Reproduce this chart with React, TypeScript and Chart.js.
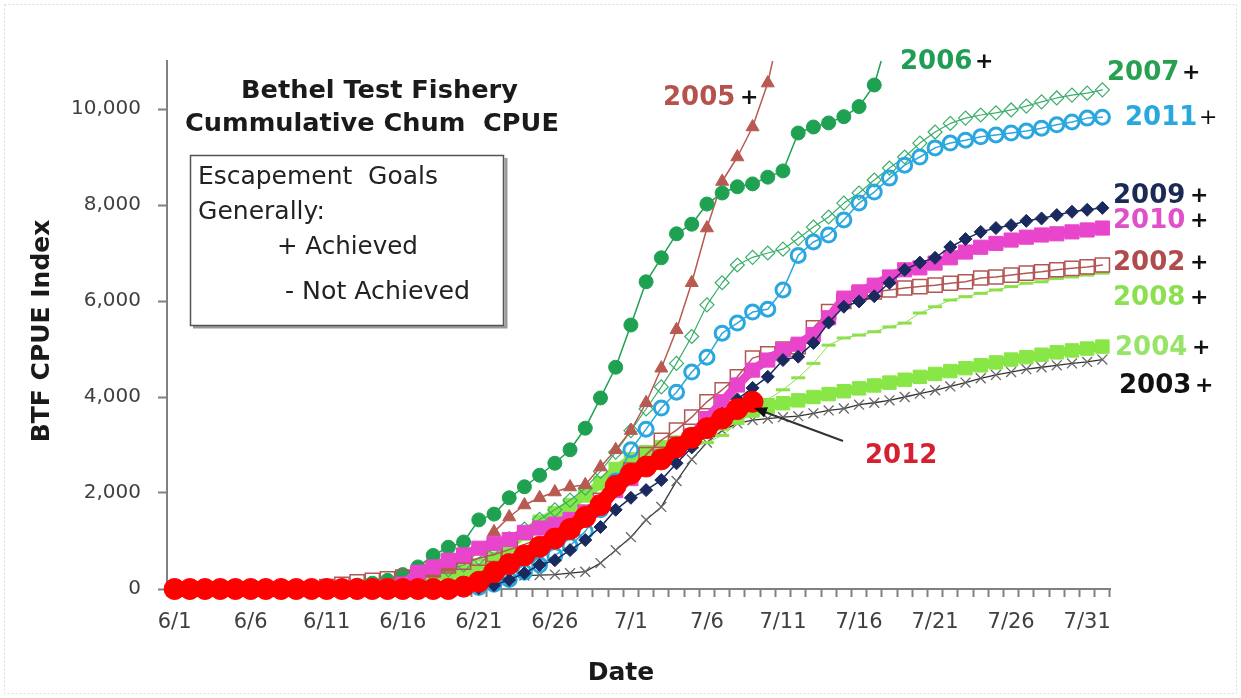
import React, { useEffect, useRef } from "react";
import { Chart, registerables } from "chart.js";

Chart.register(...registerables);

const DATES = [
  "6/1","6/2","6/3","6/4","6/5","6/6","6/7","6/8","6/9","6/10",
  "6/11","6/12","6/13","6/14","6/15","6/16","6/17","6/18","6/19","6/20",
  "6/21","6/22","6/23","6/24","6/25","6/26","6/27","6/28","6/29","6/30",
  "7/1","7/2","7/3","7/4","7/5","7/6","7/7","7/8","7/9","7/10",
  "7/11","7/12","7/13","7/14","7/15","7/16","7/17","7/18","7/19","7/20",
  "7/21","7/22","7/23","7/24","7/25","7/26","7/27","7/28","7/29","7/30",
  "7/31","8/1",
];

const Y_TICKS = [0, 2000, 4000, 6000, 8000, 10000];

const Z10 = [0, 0, 0, 0, 0, 0, 0, 0, 0, 0];

const Y2012 = [
  0,0,0,0,0,0,0,0,0,0, 0,0,0,0,0,0,0,0,0,
  50,150,350,520,700,880,1050,1250,1500,1750,2150,2400,2550,2700,2950,3150,3350,3550,3750,3900,
  null,null,null,null,null,null,null,null,null,null,null,null,null,null,null,null,null,null,null,null,null,null,null,
];
const Y2006 = [
  ...Z10,
  30,50,80,120,180,300,460,700,870,980,1440,1560,1900,2130,2370,2620,2900,3350,3980,4620,
  5500,6400,6900,7400,7600,8020,8250,8380,8440,8580,8710,9500,9625,9710,9840,10050,10500,11600,
  null,null,null,null,null,null,null,null,null,null,null,null,null,null,
];
const Y2005 = [
  ...Z10,
  15,30,50,80,120,180,250,330,450,600,800,1190,1500,1750,1900,2020,2125,2170,2540,2900,
  3300,3880,4600,5400,6380,7520,8490,9000,9625,10540,12000,
  null,null,null,null,null,null,null,null,null,null,null,null,null,null,null,null,null,null,null,null,null,
];
const Y2007 = [
  ...Z10,
  20,40,60,90,120,150,220,300,400,500,650,850,1050,1250,1450,1650,1850,2100,2450,2850,
  3300,3750,4210,4700,5260,5920,6380,6750,6910,7000,7080,7300,7540,7750,8040,8250,8520,8770,9000,9290,
  9520,9700,9810,9875,9920,9980,10060,10150,10230,10290,10330,10400,
];
const Y2011 = [
  ...Z10, ...Z10,
  30,100,200,350,500,700,900,1200,1650,2250,2900,3330,3770,4100,4520,4830,5330,5540,5770,5830,
  6230,6950,7230,7375,7690,8040,8270,8560,8830,9000,9190,9290,9350,9420,9460,9500,9540,9600,9670,9730,
  9810,9830,
];
const Y2009 = [
  ...Z10, ...Z10,
  20,80,190,330,500,600,810,1020,1290,1650,1900,2060,2270,2620,2950,3300,3650,3950,4190,4420,
  4770,4840,5125,5550,5880,5990,6100,6380,6650,6800,6900,7125,7290,7440,7520,7580,7670,7720,7790,7860,
  7900,7940,
];
const Y2010 = [
  ...Z10, 0,0,0,0,0,
  100,350,460,600,710,850,950,1030,1180,1270,1350,1450,1600,1800,2050,2300,2550,2750,2950,3200,
  3550,3900,4250,4560,4770,4980,5100,5300,5650,6060,6190,6330,6500,6650,6690,6790,6900,7020,7120,7200,
  7270,7330,7375,7400,7440,7480,7520,
];
const Y2002 = [
  ...Z10,
  50,100,150,180,210,250,300,400,480,560,640,720,820,930,1050,1200,1380,1600,1850,2150,
  2480,2800,3100,3310,3580,3900,4150,4420,4810,4900,5000,5050,5440,5780,5990,6160,6190,6230,6270,6300,
  6330,6370,6400,6480,6500,6540,6580,6610,6650,6680,6710,6750,
];
const Y2008 = [
  ...Z10, 0,0,0,0,0,
  80,150,250,350,450,600,750,900,1100,1350,1580,1800,2000,2250,2450,2550,2650,2750,2850,2950,
  3050,3200,3450,3700,3950,4150,4400,4700,5080,5230,5290,5360,5460,5540,5750,5880,6020,6090,6160,6230,
  6300,6370,6400,6470,6500,6540,6580,
];
const Y2004 = [
  ...Z10,
  20,35,50,75,100,150,200,250,300,350,400,600,900,1150,1400,1580,1750,1950,2200,2500,
  2700,2850,2950,3050,3150,3300,3450,3600,3720,3800,3870,3930,4000,4060,4120,4180,4240,4300,4360,4420,
  4480,4540,4600,4660,4720,4780,4830,4880,4930,4970,5010,5050,
];
const Y2003 = [
  ...Z10, ...Z10,
  50,190,240,280,290,300,330,360,540,810,1080,1440,1710,2250,2700,3050,3300,3450,3520,3550,
  3580,3600,3660,3720,3760,3840,3880,3930,4000,4070,4140,4220,4300,4390,4460,4520,4580,4620,4660,4700,
  4730,4780,
];

const SERIES_LABELS = [
  { t: "2005", x: 663, y: 98, c: "#B5524C", px: 740, bold: true },
  { t: "2006", x: 900, y: 62, c: "#1F9D55", px: 975, bold: true },
  { t: "2007", x: 1107, y: 73, c: "#27A050", px: 1182, bold: true },
  { t: "2011", x: 1125, y: 118, c: "#29A8DE", px: 1199, bold: false },
  { t: "2009", x: 1113, y: 196, c: "#1A2A55", px: 1190, bold: true },
  { t: "2010", x: 1113, y: 221, c: "#E050C8", px: 1190, bold: true },
  { t: "2002", x: 1113, y: 263, c: "#B04C4C", px: 1190, bold: true },
  { t: "2008", x: 1113, y: 298, c: "#8CE050", px: 1190, bold: true },
  { t: "2004", x: 1115, y: 348, c: "#98E468", px: 1192, bold: true },
  { t: "2003", x: 1119, y: 386, c: "#111111", px: 1195, bold: true },
];

const FONT = '"DejaVu Sans"';
const CLIP = { left: 20, right: 20, top: 0, bottom: 20 };

function fitText(ctx, text, x, y, w, weight, color) {
  ctx.font = `${weight} 100px ${FONT}`;
  const m = ctx.measureText(text).width;
  const size = (100 * w) / m;
  ctx.font = `${weight} ${size}px ${FONT}`;
  ctx.fillStyle = color;
  ctx.textAlign = "left";
  ctx.textBaseline = "middle";
  ctx.fillText(text, x, y);
}

const overlay = {
  id: "overlay",
  afterDraw(chart) {
    const ctx = chart.ctx;
    ctx.save();
    ctx.strokeStyle = "#dcdcdc";
    ctx.lineWidth = 1;
    ctx.setLineDash([2, 2]);
    ctx.strokeRect(4.5, 4.5, 1232, 689);
    ctx.setLineDash([]);

    fitText(ctx, "Bethel Test Fishery", 241, 91, 277, "bold", "#1a1a1a");
    fitText(ctx, "Cummulative Chum  CPUE", 185, 124, 374, "bold", "#1a1a1a");

    ctx.strokeStyle = "#9a9a9a";
    ctx.lineWidth = 3;
    ctx.beginPath();
    ctx.moveTo(193, 327);
    ctx.lineTo(506, 327);
    ctx.lineTo(506, 158);
    ctx.stroke();
    ctx.strokeStyle = "#555";
    ctx.lineWidth = 1.5;
    ctx.strokeRect(190.5, 155.5, 313, 170);
    fitText(ctx, "Escapement  Goals", 198, 178, 240, "normal", "#222");
    fitText(ctx, "Generally:", 198, 212, 127, "normal", "#222");
    fitText(ctx, "+ Achieved", 277, 248, 141, "normal", "#222");
    fitText(ctx, "- Not Achieved", 285, 292, 185, "normal", "#222");

    ctx.textAlign = "left";
    ctx.textBaseline = "middle";
    for (const s of SERIES_LABELS) {
      ctx.font = `bold 26px ${FONT}`;
      ctx.fillStyle = s.c;
      ctx.fillText(s.t, s.x, s.y);
      ctx.font = `${s.bold ? "bold" : "normal"} 22px ${FONT}`;
      ctx.fillStyle = "#111";
      ctx.fillText("+", s.px, s.y);
    }
    ctx.font = `bold 26px ${FONT}`;
    ctx.fillStyle = "#D42030";
    ctx.fillText("2012", 865, 456);

    const x1 = 843, y1 = 441, x2 = 754, y2 = 408;
    const ang = Math.atan2(y2 - y1, x2 - x1);
    ctx.strokeStyle = "#333";
    ctx.lineWidth = 2;
    ctx.beginPath();
    ctx.moveTo(x1, y1);
    ctx.lineTo(x2 - 10 * Math.cos(ang), y2 - 10 * Math.sin(ang));
    ctx.stroke();
    ctx.fillStyle = "#111";
    ctx.beginPath();
    ctx.moveTo(x2, y2);
    ctx.lineTo(x2 - 14 * Math.cos(ang - 0.4), y2 - 14 * Math.sin(ang - 0.4));
    ctx.lineTo(x2 - 14 * Math.cos(ang + 0.4), y2 - 14 * Math.sin(ang + 0.4));
    ctx.closePath();
    ctx.fill();

    ctx.font = `bold 25px ${FONT}`;
    ctx.fillStyle = "#1a1a1a";
    ctx.textAlign = "center";
    ctx.textBaseline = "middle";
    ctx.fillText("Date", 621, 673);
    ctx.translate(42, 331);
    ctx.rotate(-Math.PI / 2);
    ctx.fillText("BTF CPUE Index", 0, 0);
    ctx.restore();
  },
};

function ds(label, data, o) {
  return {
    label,
    data,
    clip: CLIP,
    tension: 0,
    spanGaps: false,
    borderJoinStyle: "round",
    borderCapStyle: "round",
    ...o,
  };
}

function fmt(v) {
  return String(v).replace(/\B(?=(\d{3})+(?!\d))/g, ",");
}

export default function App() {
  const ref = useRef(null);
  useEffect(() => {
    const transparent = "rgba(0,0,0,0)";
    const chart = new Chart(ref.current, {
      type: "line",
      data: {
        labels: DATES,
        datasets: [
          ds("2012", Y2012, { borderColor: "#FF0000", borderWidth: 15, pointStyle: "circle", pointRadius: 10.5, pointBackgroundColor: "#FF0000", pointBorderColor: "#FF0000", pointBorderWidth: 1 }),
          ds("2009", Y2009, { borderColor: "#1B2A5E", borderWidth: 1.5, pointStyle: "rectRot", pointRadius: 6.5, pointBackgroundColor: "#1B2A5E", pointBorderColor: "#1B2A5E", pointBorderWidth: 1 }),
          ds("2010", Y2010, { borderColor: "#E845CC", borderWidth: 9, borderJoinStyle: "miter", borderCapStyle: "butt", pointStyle: "rect", pointRadius: 10, pointBackgroundColor: "#E845CC", pointBorderColor: "#E845CC", pointBorderWidth: 1 }),
          ds("2002", Y2002, { borderColor: "#B35656", borderWidth: 1.5, pointStyle: "rect", pointRadius: 10, pointBackgroundColor: transparent, pointBorderColor: "#B35656", pointBorderWidth: 1.5 }),
          ds("2011", Y2011, { borderColor: "#2AA7DE", borderWidth: 1.5, pointStyle: "circle", pointRadius: 7, pointBackgroundColor: transparent, pointBorderColor: "#2AA7DE", pointBorderWidth: 3 }),
          ds("2006", Y2006, { borderColor: "#1FA152", borderWidth: 1.5, pointStyle: "circle", pointRadius: 7, pointBackgroundColor: "#1FA152", pointBorderColor: "#1FA152", pointBorderWidth: 1 }),
          ds("2005", Y2005, { borderColor: "#B85A52", borderWidth: 1.5, pointStyle: "triangle", pointRadius: 7.5, pointBackgroundColor: "#B85A52", pointBorderColor: "#B85A52", pointBorderWidth: 1 }),
          ds("2007", Y2007, { borderColor: "#3BAE6B", borderWidth: 1.2, pointStyle: "rectRot", pointRadius: 7, pointBackgroundColor: transparent, pointBorderColor: "#3BAE6B", pointBorderWidth: 1.2 }),
          ds("2004", Y2004, { borderColor: "#88E646", borderWidth: 9, borderJoinStyle: "miter", borderCapStyle: "butt", pointStyle: "rect", pointRadius: 9.5, pointBackgroundColor: "#88E646", pointBorderColor: "#88E646", pointBorderWidth: 1 }),
          ds("2008", Y2008, { borderColor: "#8DE04C", borderWidth: 1, pointStyle: "line", pointRadius: 7, pointBackgroundColor: "#8DE04C", pointBorderColor: "#8DE04C", pointBorderWidth: 3 }),
          ds("2003", Y2003, { borderColor: "#333333", borderWidth: 1.3, pointStyle: "crossRot", pointRadius: 7, pointBackgroundColor: transparent, pointBorderColor: "#666666", pointBorderWidth: 1.3 }),
        ],
      },
      options: {
        responsive: false,
        animation: false,
        devicePixelRatio: 1,
        events: [],
        layout: { padding: { left: 0, top: 61, right: 131, bottom: 0 } },
        plugins: { legend: { display: false }, tooltip: { enabled: false }, title: { display: false } },
        scales: {
          x: {
            type: "category",
            offset: true,
            grid: { display: true, drawOnChartArea: false, drawTicks: true, tickLength: 8, tickWidth: 2, tickColor: "#808080", offset: true },
            border: { display: true, color: "#808080", width: 2 },
            ticks: {
              autoSkip: false,
              maxRotation: 0,
              minRotation: 0,
              padding: 13,
              color: "#404040",
              font: { family: "DejaVu Sans", size: 21 },
              callback: (v, i) => (i % 5 === 0 ? DATES[i] : ""),
            },
            afterFit: (s) => { s.height = 109; },
          },
          y: {
            type: "linear",
            min: 0,
            max: 11000,
            grid: { display: true, drawOnChartArea: false, drawTicks: true, tickLength: 9, tickWidth: 2, tickColor: "#808080" },
            border: { display: true, color: "#808080", width: 2 },
            ticks: {
              padding: 17,
              color: "#404040",
              font: { family: "DejaVu Sans", size: 20 },
              callback: (v) => fmt(v),
            },
            afterBuildTicks: (s) => { s.ticks = Y_TICKS.map((v) => ({ value: v })); },
            afterFit: (s) => { s.width = 167; },
          },
        },
      },
      plugins: [overlay],
    });
    return () => chart.destroy();
  }, []);
  return (
    <div style={{ position: "fixed", left: 0, top: 0, width: 1241, height: 698, background: "#fff" }}>
      <canvas ref={ref} width={1241} height={698} style={{ width: 1241, height: 698, display: "block" }} />
    </div>
  );
}
